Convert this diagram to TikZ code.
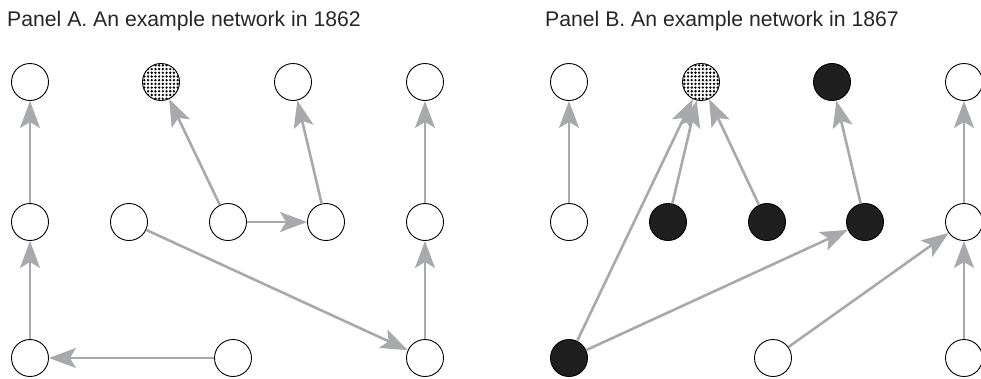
\documentclass[tikz,border=0pt]{standalone}
\usepackage{fontspec}
\setmainfont{Liberation Sans}
\usetikzlibrary{arrows.meta}

\tikzset{
  actor/.style={circle,draw=black,line width=0.9pt,minimum size=37pt,inner sep=0pt},
  plain/.style={actor,fill=white},
  dotted/.style={actor,fill=white,path picture={
      \foreach \i in {-5,...,5}
        \foreach \j in {-5,...,5}
          \fill[black] ([shift={(\i*3.7+1.85,\j*3.7+1.85)}]path picture bounding box.center) circle (1.3);}},
  solid/.style={actor,fill=black!88},
  tie/.style={draw={rgb,255:red,167;green,169;blue,172},line width=2.6pt,
    -{Stealth[length=27pt,width=20pt,inset=6pt]}},
  paneltitle/.style={anchor=base west,inner sep=0pt,font=\fontsize{21.2}{24}\selectfont,text={black!85}}
}

\begin{document}
\begin{tikzpicture}[x=1pt,y=-1pt]
            \useasboundingbox (0,0) rectangle (981,378);

            \node[paneltitle] (ta) at (7,26) {Panel A. An example network in 1862};
            \node[paneltitle] (tb) at (545,26) {Panel B. An example network in 1867};

            % Panel A
            \foreach \n/\x/\y in {a1/30/82,a3/293/82,a4/425/82,a5/30/222,a6/129/222,a7/228/222,a8/326/222,a9/425/222,a10/30/358,a11/233/358,a12/425/358}
                \node[plain] (\n) at (\x,\y) {};
            \node[dotted] (a2) at (161,82) {};

            \draw[tie] (a5) -- (a1);
            \draw[tie] (a10) -- (a5);
            \draw[tie] (a11) -- (a10);
            \draw[tie] (a7) -- (a2);
            \draw[tie] (a7) -- (a8);
            \draw[tie] (a8) -- (a3);
            \draw[tie] (a6) -- (a12);
            \draw[tie] (a12) -- (a9);
            \draw[tie] (a9) -- (a4);

            % Panel B
            \foreach \n/\x/\y in {b1/569/82,b4/964/82,b5/569/222,b9/964/222,b11/773/358,b12/964/358}
                \node[plain] (\n) at (\x,\y) {};
            \foreach \n/\x/\y in {b3/832/82,b6/668/222,b7/767/222,b8/865/222,b10/569/358}
                \node[solid] (\n) at (\x,\y) {};
            \node[dotted] (b2) at (701,82) {};

            \draw[tie] (b5) -- (b1);
            \draw[tie] (b10) -- (b2);
            \draw[tie] (b6) -- (b2);
            \draw[tie] (b7) -- (b2);
            \draw[tie] (b8) -- (b3);
            \draw[tie] (b10) -- (b8);
            \draw[tie] (b11) -- (b9);
            \draw[tie] (b12) -- (b9);
            \draw[tie] (b9) -- (b4);

        \end{tikzpicture}
\end{document}
